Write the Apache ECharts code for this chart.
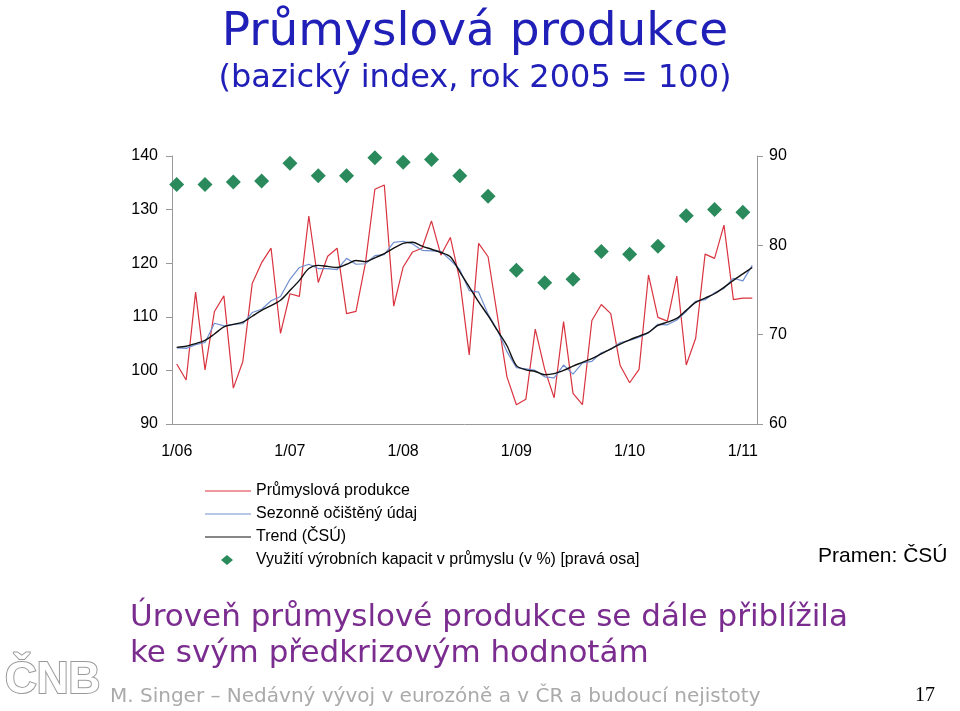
<!DOCTYPE html>
<html><head><meta charset="utf-8">
<script src="https://cdn.jsdelivr.net/npm/echarts@6/dist/echarts.min.js"></script>
<style>body{margin:0;background:#fff}#c{width:960px;height:711px}</style>
</head><body><div id="c"></div>
<script>
// měsíce 1/06 .. 2/11
var months = [];
for (var y = 6; y <= 11; y++) for (var m = 1; m <= 12; m++) months.push(m + '/' + (y < 10 ? '0' + y : y));
months = months.slice(0, 62);

var produkce = [101.2, 98.2, 114.6, 100.1, 111.0, 113.9, 96.7, 101.6, 116.2, 120.1, 122.8, 106.9,
  114.3, 113.8, 128.8, 116.4, 121.3, 122.8, 110.6, 111.0, 120.0, 133.8, 134.6, 112.0,
  119.3, 122.1, 122.8, 127.9, 121.5, 124.8, 116.9, 102.9, 123.7, 121.2, 110.0, 98.8,
  93.6, 94.6, 107.7, 100.2, 94.9, 109.1, 95.7, 93.6, 109.3, 112.3, 110.6, 100.9,
  97.7, 100.2, 117.8, 109.9, 109.2, 117.6, 101.0, 106.0, 121.7, 120.9, 127.1, 113.2, 113.5, 113.5];
var sezonne = [104.2, 104.1, 104.8, 105.2, 108.8, 108.3, 108.6, 108.7, 110.8, 111.4, 113.0, 113.8,
  117.0, 119.2, 119.8, 119.0, 119.0, 118.8, 120.9, 119.8, 119.9, 121.4, 121.6, 123.9,
  124.1, 123.6, 122.4, 122.3, 122.2, 120.6, 118.8, 114.9, 114.6, 110.5, 107.5, 103.5,
  100.5, 100.3, 100.0, 98.8, 98.6, 101.0, 99.3, 101.4, 101.7, 103.3, 103.9, 105.2,
  105.6, 106.2, 107.0, 108.6, 108.5, 109.4, 111.0, 112.9, 113.2, 114.5, 115.3, 117.2, 116.7, 119.6];
var trend = [104.3, 104.5, 105.0, 105.6, 106.8, 108.1, 108.6, 109.0, 110.1, 111.2, 112.1, 113.1,
  114.9, 116.8, 119.0, 119.6, 119.4, 119.2, 119.8, 120.5, 120.3, 121.0, 121.8, 122.8,
  123.7, 123.9, 123.2, 122.6, 122.0, 121.2, 118.4, 115.6, 112.8, 110.2, 107.4, 104.6,
  100.9, 100.1, 99.8, 99.2, 99.4, 100.0, 100.8, 101.5, 102.2, 103.1, 104.0, 104.9,
  105.7, 106.4, 107.1, 108.4, 109.0, 109.7, 111.2, 112.7, 113.5, 114.3, 115.5, 116.8, 118.0, 119.2];
// využití kapacit – čtvrtletně (index měsíce, hodnota)
var kapIdx = [0, 3, 6, 9, 12, 15, 18, 21, 24, 27, 30, 33, 36, 39, 42, 45, 48, 51, 54, 57, 60];
var kapVal = [86.8, 86.8, 87.1, 87.2, 89.2, 87.8, 87.8, 89.8, 89.3, 89.6, 87.8, 85.5,
  77.2, 75.8, 76.2, 79.3, 79.0, 79.9, 83.3, 84.0, 83.7];
var kapacity = months.map(function () { return null; });
kapIdx.forEach(function (i, k) { kapacity[i] = kapVal[k]; });

var yearLabels = {0: 1, 12: 1, 24: 1, 36: 1, 48: 1, 60: 1};
var font = 'Liberation Sans, Arial, sans-serif';
var wide = 'DejaVu Sans, sans-serif';
var purple = '#7b2c8f';
var lineIcon = 'path://M0,5L46,5L46,6L0,6Z';
var diamondIcon = 'path://M0,5L0,5.01M46,5L46,5.01M22,0L28,5L22,10L16,5Z';

var chart = echarts.init(document.getElementById('c'));
chart.setOption({
  animation: false,
  textStyle: {fontFamily: font},
  title: [
    {text: 'Průmyslová produkce', left: 470, top: 4, textAlign: 'center',
      textStyle: {fontSize: 47, fontWeight: 'normal', color: '#2020b8', fontFamily: wide}},
    {text: '(bazický index, rok 2005 = 100)', left: 470, top: 58, textAlign: 'center',
      textStyle: {fontSize: 32, fontWeight: 'normal', color: '#2020b8', fontFamily: wide}}
  ],
  legend: {
    orient: 'vertical', left: 200, top: 478, itemWidth: 46, itemHeight: 10, itemGap: 7,
    textStyle: {fontSize: 16, color: '#000', fontFamily: font},
    data: [
      {name: 'Průmyslová produkce', icon: lineIcon},
      {name: 'Sezonně očištěný údaj', icon: lineIcon},
      {name: 'Trend (ČSÚ)', icon: lineIcon},
      {name: 'Využití výrobních kapacit v průmyslu (v %) [pravá osa]', icon: diamondIcon}
    ]
  },
  grid: {left: 172, right: 203, top: 156, bottom: 287},
  xAxis: {
    type: 'category', data: months, boundaryGap: true,
    axisLine: {lineStyle: {color: '#999'}}, axisTick: {show: false},
    axisLabel: {fontSize: 16, color: '#000', margin: 20,
      interval: function (i) { return !!yearLabels[i]; }}
  },
  yAxis: [
    {type: 'value', min: 90, max: 140, interval: 10, splitLine: {show: false},
      axisLine: {show: true, lineStyle: {color: '#999'}},
      axisTick: {show: true, inside: false, length: 6, lineStyle: {color: '#999'}},
      axisLabel: {fontSize: 16, color: '#000', margin: 14}},
    {type: 'value', min: 60, max: 90, interval: 10, splitLine: {show: false}, position: 'right',
      axisLine: {show: true, lineStyle: {color: '#999'}},
      axisTick: {show: true, length: 6, lineStyle: {color: '#999'}},
      axisLabel: {fontSize: 16, color: '#000', margin: 12}}
  ],
  series: [
    {name: 'Průmyslová produkce', type: 'line', data: produkce, symbol: 'none',
      lineStyle: {color: '#d9333f', width: 1.2}, itemStyle: {color: '#d9333f'}},
    {name: 'Sezonně očištěný údaj', type: 'line', data: sezonne, symbol: 'none',
      lineStyle: {color: '#6f8fd0', width: 1.2}, itemStyle: {color: '#6f8fd0'}},
    {name: 'Trend (ČSÚ)', type: 'line', data: trend, symbol: 'none', smooth: 0.3,
      lineStyle: {color: '#111', width: 1.4}, itemStyle: {color: '#111'}},
    {name: 'Využití výrobních kapacit v průmyslu (v %) [pravá osa]', type: 'scatter', yAxisIndex: 1,
      data: kapacity, symbol: 'diamond', symbolSize: 15, itemStyle: {color: '#2a8a5c', opacity: 1}}
  ],
  graphic: [
    {type: 'text', left: 818, top: 546, style: {text: 'Pramen: ČSÚ', fontSize: 21, fill: '#000', fontFamily: font}},
    {type: 'text', left: 130, top: 600, style: {text: 'Úroveň průmyslové produkce se dále přiblížila\nke svým předkrizovým hodnotám',
      fontSize: 31, lineHeight: 36, fill: purple, fontFamily: wide}},
    {type: 'text', left: 4, top: 658, style: {text: 'ČNB', fontSize: 44, fill: '#fff', stroke: '#999', lineWidth: 2, fontFamily: font, fontWeight: 'bold'}},
    {type: 'text', left: 110, top: 687, style: {text: 'M. Singer – Nedávný vývoj v eurozóně a v ČR a budoucí nejistoty',
      fontSize: 20, fill: '#aaa', fontFamily: wide}},
    {type: 'text', left: 915, top: 686, style: {text: '17', fontSize: 20, fill: '#000', fontFamily: 'Liberation Serif, serif'}}
  ]
});
</script></body></html>
